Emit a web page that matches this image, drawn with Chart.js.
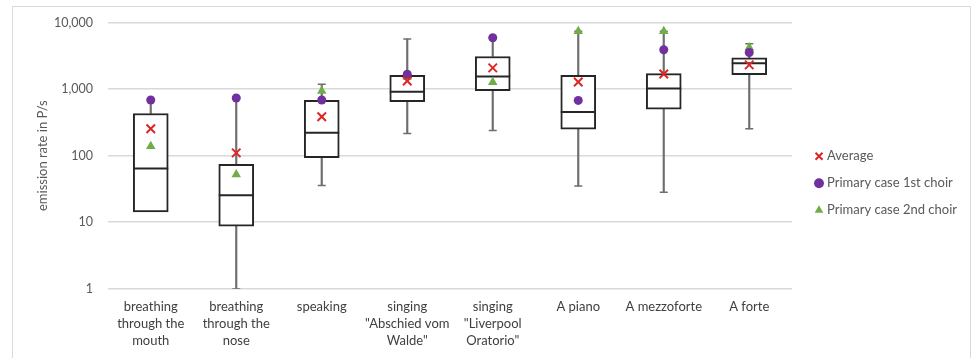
<!DOCTYPE html>
<html>
<head>
<meta charset="utf-8">
<script src="https://cdn.jsdelivr.net/npm/chart.js@4.4.1/dist/chart.umd.min.js"></script>
<style>
  html, body { margin: 0; padding: 0; background: #fff; }
  #wrap { position: relative; width: 972px; height: 358px; overflow: hidden; }
  #frame { position: absolute; left: 12px; top: 6px; width: 959px; height: 360px;
           border: 1px solid #d9d9d9; border-bottom: none; box-sizing: border-box; }
  canvas { position: absolute; left: 0; top: 0; }
</style>
</head>
<body>
<div id="wrap">
  <div id="frame"></div>
  <canvas id="c" width="972" height="358"></canvas>
</div>
<script>
// Activities (x categories)
const categories = [
  ['breathing', 'through the', 'mouth'],
  ['breathing', 'through the', 'nose'],
  ['speaking'],
  ['singing', '"Abschied vom', 'Walde"'],
  ['singing', '"Liverpool', 'Oratorio"'],
  ['A piano'],
  ['A mezzoforte'],
  ['A forte']
];

// Box plot statistics, emission rate in P/s
const minVals    = [14.3, 1.0, 35.6, 215, 238, 35, 28.3, 253];
const q1Vals     = [14.3, 8.7, 93, 647, 948, 249, 500, 1652];
const medianVals = [64, 25.5, 220, 915, 1540, 451, 1016, 2449];
const q3Vals     = [430, 74, 677, 1614, 3090, 1614, 1710, 2944];
const maxVals    = [690, 733, 1180, 5636, 5900, 7370, 7370, 4786];

// Marker series
const averageVals = [253, 110, 384, 1324, 2080, 1277, 1686, 2307];
const choir1Vals  = [684, 733, 684, 1671, 5900, 676, 3890, 3548];
const choir2Vals  = [138, 52, 935, 1521, 1265, 7370, 7370, 4230];

// Y-axis tick values (decades)
const yTicks = [1, 10, 100, 1000, 10000];

const FONT = 'Lato, "Open Sans", "Liberation Sans", sans-serif';
const LEGEND_WIDTH = 180;

const lowerWhisker = minVals.map((m, i) => m < q1Vals[i] ? [m, q1Vals[i]] : null);
const upperWhisker = maxVals.map((m, i) => m > q3Vals[i] ? [q3Vals[i], m] : null);
const lowerCaps = minVals.map((m, i) => m < q1Vals[i] ? m : null);
const upperCaps = maxVals.map((m, i) => m > q3Vals[i] ? m : null);

const whiskerColor = '#6e6e6e';
const boxColor = '#262626';

// Fixed-width legend column on the right, items nudged into place
const legendPlacePlugin = {
  id: 'legendPlace',
  afterInit(chart) {
    const lg = chart.legend;
    if (!lg) return;
    const fit = lg.fit.bind(lg);
    lg.fit = function () { fit(); this.width = LEGEND_WIDTH; };
  },
  afterLayout(chart) {
    const lg = chart.legend;
    if (!lg) return;
    lg.left += 11.5; lg.right += 11.5;
    lg.top -= 5.5; lg.bottom -= 5.5;
  }
};

new Chart(document.getElementById('c'), {
  type: 'bar',
  plugins: [legendPlacePlugin],
  data: {
    labels: categories,
    datasets: [
      {
        type: 'line', label: 'Average', data: averageVals,
        showLine: false, pointStyle: 'crossRot', pointRadius: 6,
        borderColor: '#e02424', backgroundColor: '#e02424', borderWidth: 2, order: 0
      },
      {
        type: 'line', label: 'Primary case 1st choir', data: choir1Vals,
        showLine: false, pointStyle: 'circle', pointRadius: 4.5,
        borderColor: '#7030a0', backgroundColor: '#7030a0', borderWidth: 0, order: 0
      },
      {
        type: 'line', label: 'Primary case 2nd choir', data: choir2Vals,
        showLine: false, pointStyle: 'triangle', pointRadius: 5.5,
        borderColor: '#70ad47', backgroundColor: '#70ad47', borderWidth: 0, order: 0
      },
      {
        type: 'line', label: 'median', data: medianVals,
        showLine: false, pointStyle: 'line', pointRadius: 17.5,
        borderColor: boxColor, borderWidth: 2, order: 1
      },
      {
        type: 'bar', label: 'box', data: q1Vals.map((v, i) => [v, q3Vals[i]]),
        backgroundColor: '#ffffff', borderColor: boxColor, borderWidth: 2,
        borderSkipped: false, barThickness: 35, grouped: false, order: 2
      },
      {
        type: 'line', label: 'upper cap', data: upperCaps,
        showLine: false, pointStyle: 'line', pointRadius: 4,
        borderColor: whiskerColor, borderWidth: 1.5, order: 3
      },
      {
        type: 'line', label: 'lower cap', data: lowerCaps,
        showLine: false, pointStyle: 'line', pointRadius: 4,
        borderColor: whiskerColor, borderWidth: 1.5, order: 3
      },
      {
        type: 'bar', label: 'upper whisker', data: upperWhisker,
        backgroundColor: whiskerColor, borderWidth: 0,
        barThickness: 1.5, grouped: false, order: 4
      },
      {
        type: 'bar', label: 'lower whisker', data: lowerWhisker,
        backgroundColor: whiskerColor, borderWidth: 0,
        barThickness: 1.5, grouped: false, order: 4
      }
    ]
  },
  options: {
    responsive: false,
    animation: false,
    devicePixelRatio: 1,
    layout: { padding: { left: 30, top: 19.5, right: 0, bottom: 0 } },
    plugins: {
      tooltip: { enabled: false },
      legend: {
        position: 'right',
        labels: {
          usePointStyle: true,
          boxHeight: 7,
          boxWidth: 3,
          padding: 14,
          color: '#595959',
          font: { family: FONT, size: 13 },
          filter: item => item.datasetIndex < 3
        }
      }
    },
    scales: {
      x: {
        grid: { display: false, drawTicks: false },
        border: { display: false },
        afterFit: scale => { scale.height = 69.2; },
        ticks: {
          color: '#404040',
          font: { family: FONT, size: 13, lineHeight: 1.32 },
          maxRotation: 0, autoSkip: false, padding: 9.5
        }
      },
      y: {
        type: 'logarithmic',
        min: 1, max: 10000,
        afterBuildTicks: scale => { scale.ticks = yTicks.map(v => ({ value: v })); },
        afterFit: scale => { scale.width = 78; },
        grid: { color: '#d9d9d9', lineWidth: 1.5, drawTicks: false },
        border: { display: false },
        ticks: {
          color: '#595959',
          font: { family: FONT, size: 12.5 },
          padding: 15,
          callback: v => Number(v).toLocaleString('en-US')
        },
        title: {
          display: true,
          text: 'emission rate in P/s',
          color: '#595959',
          font: { family: FONT, size: 13 },
          padding: { top: 5, bottom: 0 }
        }
      }
    }
  }
});
</script>
</body>
</html>
